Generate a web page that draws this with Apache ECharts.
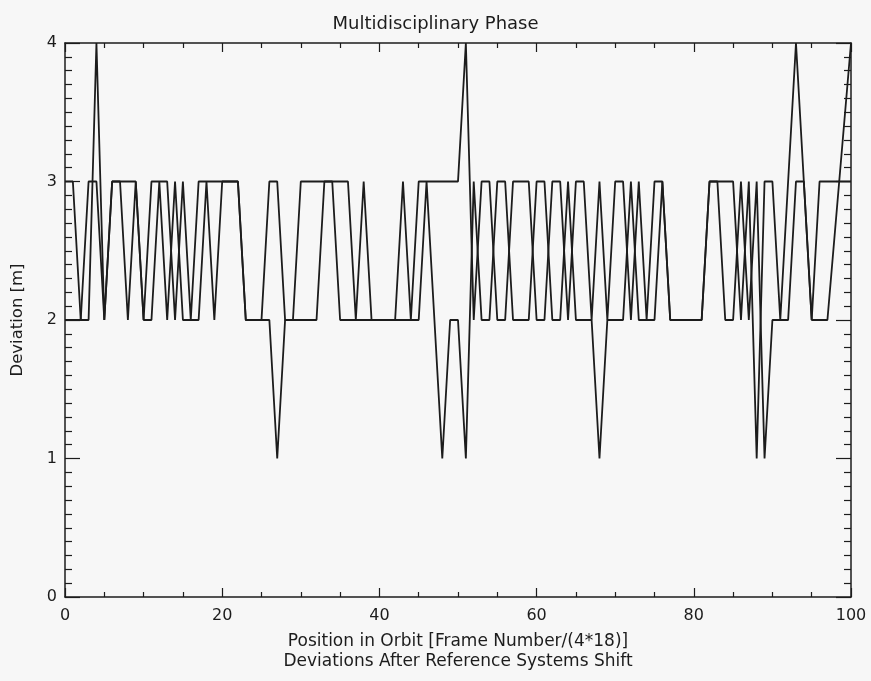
<!DOCTYPE html>
<html>
<head>
<meta charset="utf-8">
<script src="https://cdn.jsdelivr.net/npm/echarts@6/dist/echarts.min.js"></script>
<style>
  html, body { margin: 0; padding: 0; background: #f7f7f7; }
  #chart { width: 871px; height: 681px; }
</style>
</head>
<body>
<div id="chart"></div>
<script>
// frame position in orbit, 0..100
const positions = Array.from({ length: 101 }, (_, i) => i);

// deviation traces [m] (null = no sample)
const devA = [
  3, 3, 2, 2, 4, 2, 3, 3, 3, 3,
  2, 2, 3, 2, 3, 2, 2, 2, 3, 2,
  3, 3, 3, 2, 2, 2, 3, 3, 2, 2,
  3, 3, 3, 3, 3, 3, 3, 2, 3, 2,
  2, 2, 2, 3, 2, 3, 3, 3, 3, 3,
  3, 4, 2, 3, 3, 2, 2, 3, 3, 3,
  2, 2, 3, 3, 2, 3, 3, 2, 3, 2,
  3, 3, 2, 3, 2, 3, 3, 2, 2, 2,
  2, 2, 3, 3, 3, 3, 2, 3, 1, 3,
  3, 2, 3, 4, 3, 2, 2, 2, null, null,
  4
];
const devB = [
  2, 2, 2, 3, 3, 2, 3, 3, 2, 3,
  2, 3, 3, 3, 2, 3, 2, 3, 3, 3,
  3, 3, 3, 2, 2, 2, 2, 1, 2, 2,
  2, 2, 2, 3, 3, 2, 2, 2, 2, 2,
  2, 2, 2, 2, 2, 2, 3, 2, 1, 2,
  2, 1, 3, 2, 2, 3, 3, 2, 2, 2,
  3, 3, 2, 2, 3, 2, 2, 2, 1, 2,
  2, 2, 3, 2, 2, 2, 3, 2, 2, 2,
  2, 2, 3, 3, 2, 2, 3, 2, 3, 1,
  2, 2, 2, 3, 3, 2, 3, 3, 3, 3,
  3
];

const xTicks = [0, 20, 40, 60, 80, 100];
const yTicks = [0, 1, 2, 3, 4];

const toPairs = (vals) =>
  positions.map((p, i) => [p, vals[i]]).filter((d) => d[1] !== null);

const ink = "#1c1c1c";
const font = "DejaVu Sans";

const chart = echarts.init(document.getElementById("chart"));

const axisBase = {
  axisLine: { show: true, onZero: false, lineStyle: { color: ink, width: 1.5 } },
  splitLine: { show: false },
};
const xTick = {
  axisTick: { show: true, inside: true, length: 9, lineStyle: { color: ink, width: 1.2 } },
  minorTick: { show: true, splitNumber: 4, length: 5, lineStyle: { color: ink, width: 1.2 } },
};
const yTick = {
  axisTick: { show: true, inside: true, length: 15, lineStyle: { color: ink, width: 1.2 } },
  minorTick: { show: true, splitNumber: 10, length: 7, lineStyle: { color: ink, width: 1.2 } },
};

chart.setOption({
  animation: false,
  backgroundColor: "#f7f7f7",
  title: {
    text: "Multidisciplinary Phase",
    left: "center",
    top: 10,
    textStyle: { fontFamily: font, fontSize: 18, fontWeight: "normal", color: ink },
  },
  grid: { left: 65, right: 20, top: 43, bottom: 84 },
  xAxis: [
    {
      ...axisBase,
      ...xTick,
      type: "value",
      min: xTicks[0],
      max: xTicks[xTicks.length - 1],
      interval: 20,
      position: "bottom",
      axisLabel: { margin: 11, fontFamily: font, fontSize: 16, color: ink },
      name: "Position in Orbit [Frame Number/(4*18)]\nDeviations After Reference Systems Shift",
      nameLocation: "middle",
      nameGap: 35,
      nameTextStyle: { fontFamily: font, fontSize: 17, color: ink, lineHeight: 20 },
    },
    {
      ...axisBase,
      ...xTick,
      type: "value",
      min: xTicks[0],
      max: xTicks[xTicks.length - 1],
      interval: 20,
      position: "top",
      axisLabel: { show: false },
    },
  ],
  yAxis: [
    {
      ...axisBase,
      ...yTick,
      type: "value",
      min: yTicks[0],
      max: yTicks[yTicks.length - 1],
      interval: 1,
      position: "left",
      axisLabel: { margin: 8, fontFamily: font, fontSize: 16, color: ink },
      name: "Deviation [m]",
      nameLocation: "middle",
      nameGap: 39,
      nameRotate: 90,
      nameTextStyle: { fontFamily: font, fontSize: 16.5, color: ink },
    },
    {
      ...axisBase,
      ...yTick,
      type: "value",
      min: yTicks[0],
      max: yTicks[yTicks.length - 1],
      interval: 1,
      position: "right",
      axisLabel: { show: false },
    },
  ],
  series: [
    {
      type: "line",
      data: toPairs(devA),
      showSymbol: false,
      lineStyle: { color: ink, width: 1.8 },
      z: 3,
    },
    {
      type: "line",
      data: toPairs(devB),
      showSymbol: false,
      lineStyle: { color: ink, width: 1.8 },
      z: 3,
    },
  ],
});
</script>
</body>
</html>
